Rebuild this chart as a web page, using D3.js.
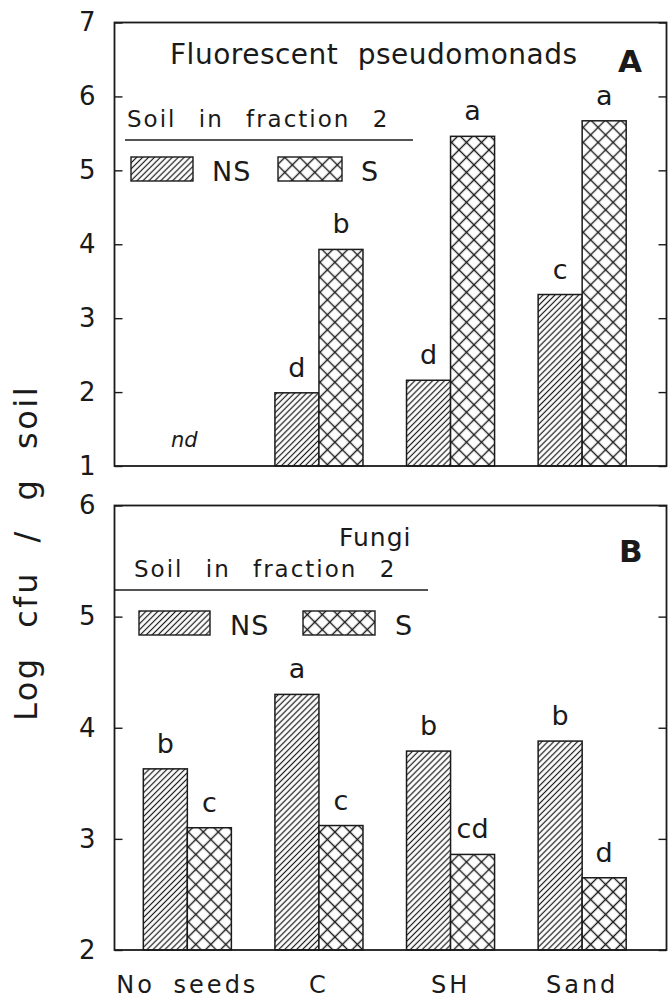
<!DOCTYPE html>
<html>
<head>
<meta charset="utf-8">
<script src="https://cdn.jsdelivr.net/npm/d3@7"></script>
<style>
  body { margin: 0; background: #fff; }
  svg text { font-family: "DejaVu Sans", sans-serif; fill: #1a1a1a; }
</style>
</head>
<body>
<div id="chart"></div>
<script>
// data
var categories = ["No seeds", "C", "SH", "Sand"];
var seriesKeys = ["NS", "S"];

// panel A: fluorescent pseudomonads (nd = not detected)
var pseudoNS = [null, 1.99, 2.16, 3.32];
var pseudoS = [null, 3.93, 5.46, 5.67];
var pseudoNSLetters = ["", "d", "d", "c"];
var pseudoSLetters = ["", "b", "a", "a"];
var pseudoTicks = [1, 2, 3, 4, 5, 6, 7];

// panel B: fungi
var fungiNS = [3.63, 4.30, 3.79, 3.88];
var fungiS = [3.10, 3.12, 2.86, 2.65];
var fungiNSLetters = ["b", "a", "b", "b"];
var fungiSLetters = ["c", "c", "cd", "d"];
var fungiTicks = [2, 3, 4, 5, 6];

var width = 671, height = 1000;
var xL = 114.5, xR = 666.5;
var ink = "#1a1a1a";

var svg = d3.select("#chart").append("svg")
  .attr("width", width)
  .attr("height", height);

// hatch patterns
var defs = svg.append("defs");
var pNS = defs.append("pattern")
  .attr("id", "hatchNS")
  .attr("patternUnits", "userSpaceOnUse")
  .attr("width", 4.2).attr("height", 4.2)
  .attr("patternTransform", "rotate(45)");
pNS.append("rect").attr("width", 4.2).attr("height", 4.2).attr("fill", "#fff");
pNS.append("line").attr("x1", 2.1).attr("y1", 0).attr("x2", 2.1).attr("y2", 4.2)
  .attr("stroke", ink).attr("stroke-width", 1.2);

var pS = defs.append("pattern")
  .attr("id", "hatchS")
  .attr("patternUnits", "userSpaceOnUse")
  .attr("width", 10.6).attr("height", 10.6)
  .attr("patternTransform", "rotate(45)");
pS.append("rect").attr("width", 10.6).attr("height", 10.6).attr("fill", "#fff");
pS.append("line").attr("x1", 5.3).attr("y1", 0).attr("x2", 5.3).attr("y2", 10.6)
  .attr("stroke", ink).attr("stroke-width", 1.4);
pS.append("line").attr("x1", 0).attr("y1", 5.3).attr("x2", 10.6).attr("y2", 5.3)
  .attr("stroke", ink).attr("stroke-width", 1.4);

var fillFor = { NS: "url(#hatchNS)", S: "url(#hatchS)" };

var xScale = d3.scaleBand()
  .domain(categories)
  .range([xL, 655])
  .paddingInner(0.331)
  .paddingOuter(0.219);

var xSub = d3.scaleBand()
  .domain(seriesKeys)
  .range([0, xScale.bandwidth()]);

function panel(yScale, ticks, nsVals, sVals, nsLetters, sLetters) {
  var y0 = yScale.range()[0], y1 = yScale.range()[1];
  var g = svg.append("g");

  // bars
  var groups = g.selectAll(".grp")
    .data(categories)
    .enter()
    .append("g")
    .attr("class", "grp")
    .attr("transform", function(d) { return "translate(" + xScale(d) + ",0)"; });

  groups.each(function(cat, i) {
    var rows = [
      { key: "NS", v: nsVals[i], lab: nsLetters[i] },
      { key: "S", v: sVals[i], lab: sLetters[i] }
    ].filter(function(r) { return r.v != null; });

    var sel = d3.select(this);
    sel.selectAll("rect")
      .data(rows)
      .enter()
      .append("rect")
      .attr("x", function(r) { return xSub(r.key); })
      .attr("y", function(r) { return yScale(r.v); })
      .attr("width", xSub.bandwidth())
      .attr("height", function(r) { return y0 - yScale(r.v); })
      .attr("fill", function(r) { return fillFor[r.key]; })
      .attr("stroke", ink)
      .attr("stroke-width", 1.5);

    sel.selectAll("text.let")
      .data(rows)
      .enter()
      .append("text")
      .attr("class", "let")
      .attr("x", function(r) { return xSub(r.key) + xSub.bandwidth() / 2; })
      .attr("y", function(r) { return yScale(r.v) - 16; })
      .attr("text-anchor", "middle")
      .style("font-size", "27px")
      .text(function(r) { return r.lab; });
  });

  // left axis with inward ticks
  g.append("g")
    .attr("transform", "translate(" + xL + ",0)")
    .call(d3.axisLeft(yScale).tickValues(ticks).tickSize(-8).tickPadding(19).tickFormat(d3.format("d")))
    .call(function(a) { a.select(".domain").remove(); })
    .call(function(a) {
      a.selectAll("line").attr("stroke", ink).attr("stroke-width", 1.4);
      a.selectAll("text").style("font-size", "26px").style("font-family", "DejaVu Sans").attr("fill", ink);
    });

  // right axis, ticks only
  g.append("g")
    .attr("transform", "translate(" + xR + ",0)")
    .call(d3.axisRight(yScale).tickValues(ticks).tickSize(-8).tickFormat(""))
    .call(function(a) { a.select(".domain").remove(); })
    .call(function(a) { a.selectAll("line").attr("stroke", ink).attr("stroke-width", 1.4); });

  // frame
  g.append("rect")
    .attr("x", xL).attr("y", y1)
    .attr("width", xR - xL).attr("height", y0 - y1)
    .attr("fill", "none")
    .attr("stroke", ink)
    .attr("stroke-width", 1.8);

  return g;
}

function label(g, x, y, txt, size, ls, ws) {
  return g.append("text")
    .attr("x", x).attr("y", y)
    .style("font-size", size + "px")
    .style("letter-spacing", (ls || 0) + "px")
    .style("word-spacing", (ws || 0) + "px")
    .text(txt);
}

function legend(g, ly, lineX0, lineX1, textX, nsBox, nsTextX, sBox, sTextX, boxTop) {
  label(g, textX, ly, "Soil in fraction 2", 23, 2, 13);
  g.append("line")
    .attr("x1", lineX0).attr("x2", lineX1)
    .attr("y1", ly + 13).attr("y2", ly + 13)
    .attr("stroke", ink).attr("stroke-width", 1.6);
  g.append("rect")
    .attr("x", nsBox[0]).attr("y", boxTop)
    .attr("width", nsBox[1] - nsBox[0]).attr("height", 24)
    .attr("fill", fillFor.NS).attr("stroke", ink).attr("stroke-width", 1.4);
  label(g, nsTextX, boxTop + 24, "NS", 27, 1);
  g.append("rect")
    .attr("x", sBox[0]).attr("y", boxTop)
    .attr("width", sBox[1] - sBox[0]).attr("height", 24)
    .attr("fill", fillFor.S).attr("stroke", ink).attr("stroke-width", 1.4);
  label(g, sTextX, boxTop + 24, "S", 27);
}

// panel A
var yA = d3.scaleLinear().domain([1, 7]).range([466, 22.5]);
var gA = panel(yA, pseudoTicks, pseudoNS, pseudoS, pseudoNSLetters, pseudoSLetters);
label(gA, 170, 64, "Fluorescent pseudomonads", 28, 0.5, 10);
label(gA, 618, 72, "A", 31).style("font-weight", "bold");
legend(gA, 127, 125, 413, 127, [131, 193], 212, [278, 342], 361, 157);
label(gA, xScale("No seeds") + xScale.bandwidth() / 2 - 3, yA(1) - 19, "nd", 21)
  .attr("text-anchor", "middle").style("font-style", "italic");

// panel B
var yB = d3.scaleLinear().domain([2, 6]).range([950, 505.5]);
var gB = panel(yB, fungiTicks, fungiNS, fungiS, fungiNSLetters, fungiSLetters);
label(gB, 339, 546, "Fungi", 25, 1);
label(gB, 619, 562, "B", 31).style("font-weight", "bold");
legend(gB, 577, xL, 428, 134, [139, 210], 230, [303, 375], 395, 611);

// category axis under panel B
svg.append("g")
  .attr("transform", "translate(0,950)")
  .call(d3.axisBottom(xScale).tickSize(0).tickPadding(26))
  .call(function(a) { a.select(".domain").remove(); })
  .call(function(a) {
    a.selectAll("text")
      .style("font-size", "24px")
      .style("font-family", "DejaVu Sans")
      .style("letter-spacing", "3px")
      .style("word-spacing", "8px")
      .attr("fill", ink);
  });

// y title
svg.append("text")
  .attr("transform", "translate(37,553) rotate(-90)")
  .attr("text-anchor", "middle")
  .style("font-size", "32px")
  .style("letter-spacing", "2.5px")
  .style("word-spacing", "16px")
  .text("Log cfu / g soil");
</script>
</body>
</html>
